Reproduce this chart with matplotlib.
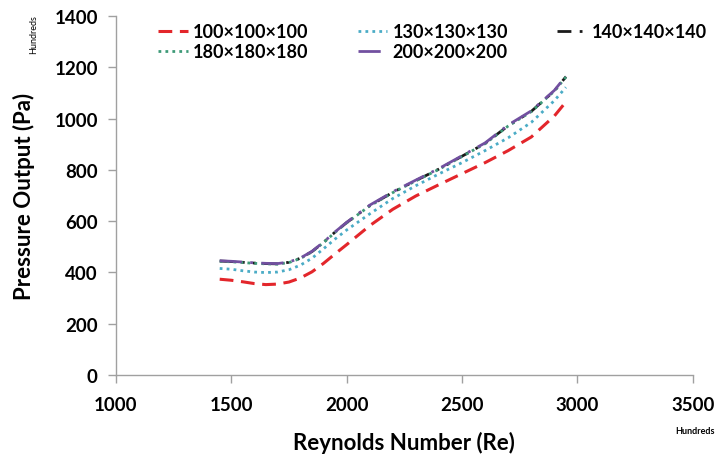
import matplotlib
matplotlib.use("Agg")
import matplotlib.pyplot as plt
import numpy as np

re_vals = [1450, 1500, 1550, 1600, 1650, 1700, 1750, 1800, 1850, 1900, 1950,
           2000, 2100, 2200, 2300, 2400, 2500, 2600, 2700, 2800, 2900, 2950]
p_100 = [373, 369, 363, 356, 352, 354, 362, 378, 402, 435, 472,
         508, 582, 646, 698, 742, 785, 828, 875, 928, 1010, 1065]
p_130 = [415, 412, 406, 401, 399, 401, 410, 428, 455, 492, 530,
         565, 628, 688, 738, 784, 828, 875, 925, 985, 1070, 1122]
p_140 = [444, 442, 439, 436, 434, 433, 439, 455, 481, 517, 557,
         594, 660, 712, 758, 803, 853, 903, 972, 1028, 1108, 1163]
p_180 = [443, 441, 438, 435, 433, 432, 438, 454, 480, 516, 556,
         593, 659, 711, 757, 802, 852, 902, 971, 1027, 1107, 1162]
p_200 = [445, 443, 440, 437, 435, 434, 440, 456, 482, 518, 558,
         595, 662, 714, 760, 805, 855, 905, 975, 1030, 1110, 1166]
labels = ["100×100×100", "130×130×130", "140×140×140", "180×180×180", "200×200×200"]
x_ticks = [1000, 1500, 2000, 2500, 3000, 3500]
y_ticks = [0, 200, 400, 600, 800, 1000, 1200, 1400]

plt.rcParams['font.family'] = ['Lato', 'DejaVu Sans']

fig = plt.figure(figsize=(7.24, 4.6), dpi=100)
ax = fig.add_axes([0.160, 0.183, 0.797, 0.780])

styles = [
    dict(color="#E3262B", linestyle=(0, (4.5, 2.5)), linewidth=2.2),
    dict(color="#4BACC6", linestyle=(0, (1, 1.5)), linewidth=2.0),
    dict(color="#1a1a1a", linestyle=(0, (5, 3, 1, 3, 1, 3)), linewidth=2.0),
    dict(color="#3E9A78", linestyle=(0, (1, 1.5)), linewidth=2.0),
    dict(color="#7250A0", linestyle=(0, (8, 3, 1, 3)), linewidth=2.0),
]
series = [p_100, p_130, p_140, p_180, p_200]
handles = []
for s, lab, st in zip(series, labels, styles):
    h, = ax.plot(re_vals, s, label=lab, **st)
    handles.append(h)

ax.set_xlim(1000, 3500)
ax.set_ylim(0, 1400)
ax.set_xticks(x_ticks)
ax.set_yticks(y_ticks)
for sp in ["top", "right"]:
    ax.spines[sp].set_visible(False)
for sp in ["left", "bottom"]:
    ax.spines[sp].set_color("#A0A0A0")
    ax.spines[sp].set_linewidth(1.0)
ax.tick_params(axis="both", direction="out", length=6, width=1.0, color="#A0A0A0",
               labelsize=13.5, pad=7)
ax.tick_params(axis="x", pad=9)
for t in ax.get_xticklabels() + ax.get_yticklabels():
    t.set_fontweight("bold")

ax.set_xlabel("Reynolds Number (Re)", fontsize=16, fontweight="bold", labelpad=13)
ax.set_ylabel("Pressure Output (Pa)", fontsize=16, fontweight="bold", labelpad=14)

fig.text(0.046, 0.925, "Hundreds", rotation=90, fontsize=6.5, ha="center", va="center")
fig.text(0.960, 0.062, "Hundreds", fontsize=6.5, fontweight="bold", ha="center", va="center")

order = [0, 3, 1, 4, 2]
leg = ax.legend(handles=[handles[i] for i in order], ncol=3, loc="upper left",
                bbox_to_anchor=(0.045, 1.025),
                frameon=False, prop=dict(weight="bold", size=13),
                handlelength=1.65, handletextpad=0.3, columnspacing=2.7, labelspacing=0.15)

fig.savefig("out.png", dpi=100)
